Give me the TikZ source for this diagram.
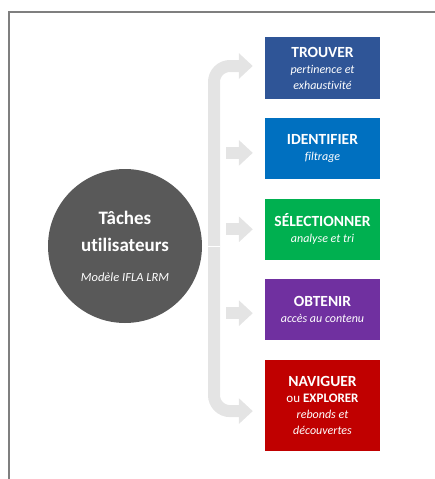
\documentclass[tikz,border=0pt]{standalone}
\usepackage{fontspec}
\setmainfont{Carlito}[Ligatures={TeX,NoCommon}]
\usepackage{tikz}
\usetikzlibrary{positioning, arrows.meta}
\usepackage{xcolor}
\definecolor{framegray}{HTML}{7F7F7F}
\definecolor{bargray}{HTML}{E4E4E4}
\definecolor{circgray}{HTML}{595959}
\definecolor{trouvc}{HTML}{2F5597}
\definecolor{identc}{HTML}{0070C0}
\definecolor{selecc}{HTML}{00B050}
\definecolor{obtenc}{HTML}{7030A0}
\definecolor{navigc}{HTML}{C00000}
\newcommand{\subtxt}[1]{{\mdseries\itshape\fontsize{12}{16.5}\selectfont #1}}

\begin{document}
\begin{tikzpicture}[
                x=1pt, y=-1pt,
                node distance=19pt,
                task/.style={rectangle, minimum width=115pt, minimum height=61pt, inner sep=0pt, align=center, text=white, font=\fontsize{15.5}{17}\selectfont\bfseries},
                fatarrow/.style={draw=bargray, line width=12pt, -{Triangle[length=14pt, width=25pt]}},
                bracket/.style={fatarrow, {Triangle[length=14pt, width=25pt]}-{Triangle[length=14pt, width=25pt]}, rounded corners=16pt}
            ]
            \useasboundingbox (0,0) rectangle (435,479);
            \draw[framegray, line width=2pt] (9,479) -- (9,12) -- (435,12);

            \node[circle, fill=circgray, minimum size=154pt, inner sep=0pt, align=center, text=white, font=\fontsize{19}{27}\selectfont\bfseries] (tache) at (125,246)
                {T\^aches\\utilisateurs\\[3pt]{\fontsize{12.5}{14}\selectfont\mdseries\itshape Mod\`ele IFLA LRM}};

            \node[task, fill=trouvc, minimum height=62pt] (trouver) at (322.5,68)
                {TROUVER\\[-1pt]\subtxt{pertinence et}\\[-1pt]\subtxt{exhaustivit\'e}};
            \node[task, fill=identc, below=of trouver] (identifier)
                {IDENTIFIER\\[-1pt]\subtxt{filtrage}};
            \node[task, fill=selecc, below=of identifier] (selectionner)
                {S\'ELECTIONNER\\[-1pt]\subtxt{analyse et tri}};
            \node[task, fill=obtenc, below=of selectionner] (obtenir)
                {OBTENIR\\[-1pt]\subtxt{acc\`es au contenu}};
            \node[task, fill=navigc, minimum height=91pt, below=of obtenir] (naviguer)
                {NAVIGUER\\[-1pt]{\mdseries\fontsize{13}{16.5}\selectfont ou \bfseries EXPLORER}\\[-1pt]\subtxt{rebonds et}\\[-1pt]\subtxt{d\'ecouvertes}};

            \coordinate (spine) at (214,246);
            \draw[bracket] ([xshift=-12pt, yshift=2pt]trouver.west) -| (spine) |- ([xshift=-12pt, yshift=-6pt]naviguer.west);
            \draw[white, line width=0.8pt] (tache.east) -- ([xshift=6pt]spine);

            \draw[fatarrow] ([xshift=-39pt, yshift=-4pt]identifier.west) -- ([xshift=-12pt, yshift=-4pt]identifier.west);
            \draw[fatarrow] ([xshift=-39pt]selectionner.west) -- ([xshift=-12pt]selectionner.west);
            \draw[fatarrow] ([xshift=-39pt, yshift=-3.5pt]obtenir.west) -- ([xshift=-12pt, yshift=-3.5pt]obtenir.west);
        \end{tikzpicture}
\end{document}
